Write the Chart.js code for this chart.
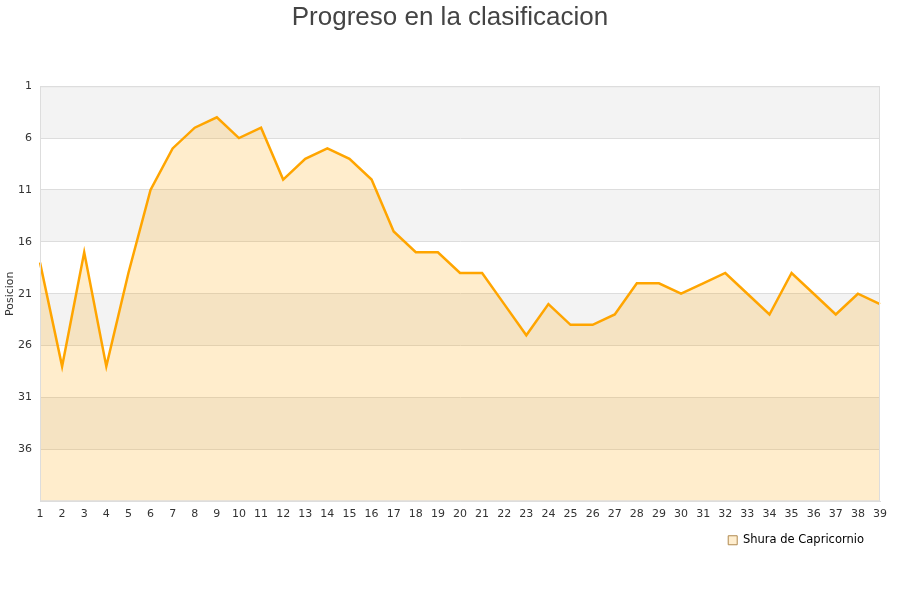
<!DOCTYPE html>
<html>
<head>
<meta charset="utf-8">
<script src="https://cdn.jsdelivr.net/npm/chart.js@4"></script>
<style>
  html, body { margin: 0; padding: 0; background: #fff; }
  #wrap { width: 900px; height: 600px; }
</style>
</head>
<body>
<div id="wrap"><canvas id="c"></canvas></div>
<script>
// jornadas 1..39
const jornadas = ["1","2","3","4","5","6","7","8","9","10","11","12","13","14","15","16","17","18","19","20",
  "21","22","23","24","25","26","27","28","29","30","31","32","33","34","35","36","37","38","39"];
// posicion de Shura de Capricornio por jornada
const posiciones = [18, 28, 17, 28, 19, 11, 7, 5, 4, 6, 5, 10, 8, 7, 8, 10, 15, 17, 17, 19,
  19, 22, 25, 22, 24, 24, 23, 20, 20, 21, 20, 19, 21, 23, 19, 21, 23, 21, 22];
const posMin = 1, posMax = 41, paso = 5;
const serieNombre = "Shura de Capricornio";

// franjas grises alternas detras de la grafica
const bandas = {
  id: "bandas",
  beforeDraw(chart) {
    const { ctx, chartArea: a, scales: { y } } = chart;
    ctx.save();
    ctx.fillStyle = "#f3f3f3";
    for (let v = posMin, i = 0; v < posMax; v += paso, i++) {
      if (i % 2) continue;
      const y0 = y.getPixelForValue(v), y1 = y.getPixelForValue(Math.min(v + paso, posMax));
      ctx.fillRect(a.left, y0, a.right - a.left, y1 - y0);
    }
    ctx.restore();
  }
};

new Chart(document.getElementById("c"), {
  type: "line",
  data: {
    labels: jornadas,
    datasets: [{
      label: serieNombre,
      data: posiciones,
      borderColor: "#ffa500",
      backgroundColor: "rgba(255,165,0,0.2)",
      borderWidth: 2.5,
      pointRadius: 0,
      tension: 0,
      fill: { value: posMax }
    }]
  },
  options: {
    responsive: true, maintainAspectRatio: false, animation: false,
    layout: { padding: { left: 4, right: 4, top: 2, bottom: 44 } },
    plugins: {
      title: { display: true, text: "Progreso en la clasificacion", color: "#444",
        font: { family: "Liberation Sans, Arial", size: 26, weight: "normal" }, padding: { top: 0, bottom: 53 } },
      legend: { position: "bottom", align: "end", fullSize: false,
        labels: { color: "#000", boxWidth: 9, boxHeight: 9, padding: 16,
          font: { family: "DejaVu Sans", size: 11.5 },
          generateLabels: () => [{ text: serieNombre, fillStyle: "#ffeecf", strokeStyle: "#b08a50", lineWidth: 1 }] } },
      tooltip: { enabled: false }
    },
    scales: {
      x: {
        offset: false,
        grid: { display: false },
        border: { color: "#ddd" },
        ticks: { color: "#333", maxRotation: 0, autoSkip: false, padding: 0,
          font: { family: "DejaVu Sans", size: 11, lineHeight: 0.84 } }
      },
      y: {
        reverse: true, min: posMin, max: posMax,
        afterFit: s => { s.width = 36; },
        title: { display: true, text: "Posicion", color: "#333", font: { family: "DejaVu Sans", size: 11 }, padding: 0 },
        grid: { color: "#ddd", drawTicks: false },
        border: { color: "#ddd" },
        ticks: { stepSize: paso, color: "#333", padding: 8, font: { family: "DejaVu Sans", size: 11 },
          callback: v => v >= posMax ? "" : v }
      },
      yr: {
        position: "right", display: true,
        afterFit: s => { s.width = 16; },
        grid: { display: false }, border: { display: false }, ticks: { display: false }
      }
    }
  },
  plugins: [bandas, {
    id: "borde",
    afterDraw(chart) {
      const { ctx, chartArea: a } = chart;
      ctx.save(); ctx.strokeStyle = "#ddd"; ctx.lineWidth = 1;
      ctx.strokeRect(a.left + 0.5, a.top + 0.5, a.right - a.left - 1, a.bottom - a.top - 1);
      ctx.restore();
    }
  }]
});
</script>
</body>
</html>
